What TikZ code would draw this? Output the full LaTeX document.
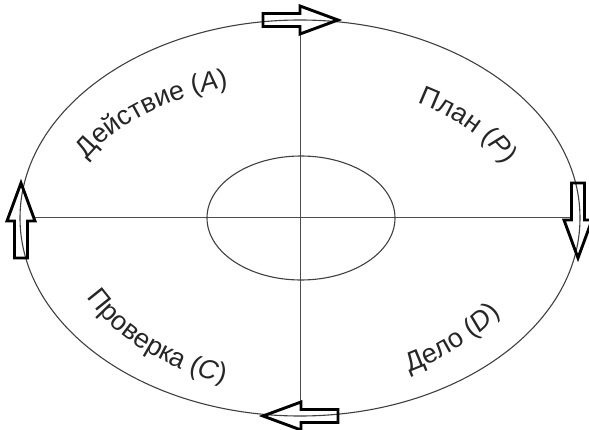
\documentclass[tikz,border=0pt]{standalone}
\usepackage{fontspec}
\setmainfont{Liberation Sans}
\usetikzlibrary{decorations.text,shapes.geometric}
\newcommand\lblfont{\fontsize{27}{30}\selectfont\color{black!85}}
\begin{document}
\begin{tikzpicture}[x=1pt,y=1pt,
  ringline/.style={draw=black!75, line width=1.1pt},
  axis/.style={draw=black!70, line width=1pt},
  blockarrow/.style={draw=black, line width=2.9pt, line join=miter},
  barrow/.pic={\path[#1] (0,-6.5) -- (37,-6.5) -- (37,-14) -- (75,0) -- (37,14) -- (37,6.5) -- (0,6.5) -- cycle;}
]
\useasboundingbox (0,0) rectangle (589,429);
% outer ellipse (shape holder)
\node[ellipse, inner sep=0pt, outer sep=0pt, minimum width=560pt, minimum height=396pt] (outer) at (300,211) {};
% axes
\draw[axis] (outer.north) -- (outer.south);
\draw[axis] (outer.west) -- (outer.east);
% arrow fills
\pic (fa1) at (263,409) {barrow={fill=white}};
\pic[rotate=-90] (fa2) at (578,246) {barrow={fill=white}};
\pic[rotate=180] (fa3) at (338,13) {barrow={fill=white}};
\pic[rotate=90] (fa4) at (21,171) {barrow={fill=white}};
% ellipses
\draw[ringline] (outer.center) ellipse [x radius=280, y radius=198];
\node[ellipse, ringline, inner sep=0pt, minimum width=188pt, minimum height=124pt] (inner) at (301,211) {};
% arrow outlines
\pic (a1) at (263,409) {barrow=blockarrow};
\pic[rotate=-90] (a2) at (578,246) {barrow=blockarrow};
\pic[rotate=180] (a3) at (338,13) {barrow=blockarrow};
\pic[rotate=90] (a4) at (21,171) {barrow=blockarrow};
% labels along arcs
\path[decorate, decoration={text along path, text align=center,
  text={|\lblfont|Действие (|\lblfont\itshape|A|\lblfont|)}}]
  ([shift={(175:235 and 138)}]outer.center) arc[start angle=175, end angle=95, x radius=235, y radius=138];
\path[decorate, decoration={text along path, text align=center,
  text={|\lblfont|План (|\lblfont\itshape|P|\lblfont|)}}]
  ([shift={(76:222 and 136)}]outer.center) arc[start angle=76, end angle=-4, x radius=222, y radius=136];
\path[decorate, decoration={text along path, text align=center,
  text={|\lblfont|Проверка (|\lblfont\itshape|C|\lblfont|)}}]
  ([shift={(187:240 and 174)}]outer.center) arc[start angle=187, end angle=267, x radius=240, y radius=174];
\path[decorate, decoration={text along path, text align=center,
  text={|\lblfont|Дело (|\lblfont\itshape|D|\lblfont|)}}]
  ([shift={(275:240 and 173)}]outer.center) arc[start angle=275, end angle=355, x radius=240, y radius=173];
\end{tikzpicture}
\end{document}
